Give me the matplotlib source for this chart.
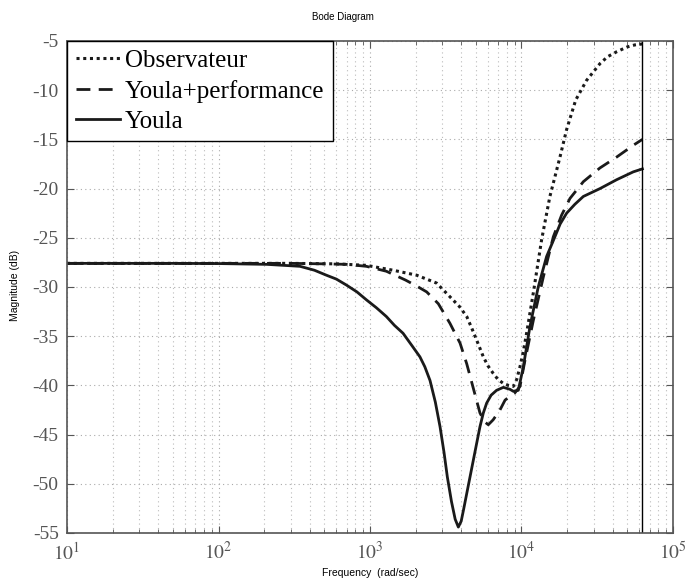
import matplotlib
matplotlib.use("Agg")
import matplotlib.pyplot as plt
import numpy as np
from matplotlib.ticker import FixedLocator, FixedFormatter, LogLocator, NullFormatter

# frequency (rad/s) and magnitude (dB)
w_obs = [10, 100, 300, 600, 946, 1422, 2030, 2750, 3373, 3900, 4350, 4700, 5060, 5600,
         6000, 6520, 7000, 7590, 8200, 8830, 9300, 9780, 10300, 10810, 11970, 13580,
         15400, 17950, 19860, 22800, 26900, 32980, 37000, 42460, 50000, 56000, 62832]
db_obs = [-27.6, -27.6, -27.6, -27.65, -27.8, -28.3, -28.8, -29.6, -31.0, -32.0, -33.0,
          -34.2, -35.4, -37.1, -38.0, -38.8, -39.4, -39.8, -40.0, -40.1, -39.4, -38.1,
          -36.5, -34.7, -30.6, -25.2, -20.8, -16.8, -14.0, -11.0, -9.0, -7.3, -6.6,
          -6.1, -5.6, -5.4, -5.3]

w_perf = [10, 100, 300, 500, 698, 946, 1282, 1717, 2030, 2367, 2825, 3373, 3930, 4350,
          4810, 5320, 5700, 6040, 6500, 7210, 7790, 8400, 9000, 9780, 10500, 11970,
          13930, 16220, 18400, 20900, 25600, 32980, 42460, 54700, 62832]
db_perf = [-27.6, -27.6, -27.6, -27.65, -27.7, -27.9, -28.4, -29.3, -29.9, -30.5, -31.7,
           -33.7, -35.7, -37.8, -40.3, -42.8, -43.7, -44.0, -43.5, -42.5, -41.5, -41.1,
           -40.8, -40.1, -37.6, -33.4, -29.0, -24.9, -22.7, -21.0, -19.3, -17.9, -16.8,
           -15.6, -15.0]

w_youla = [10, 50, 100, 208, 345, 430, 515, 600, 698, 820, 946, 1100, 1282, 1450, 1652,
           1900, 2136, 2300, 2490, 2700, 2900, 3080, 3240, 3450, 3650, 3830, 4000, 4150,
           4350, 4810, 5320, 5600, 5890, 6300, 6850, 7590, 8400, 8830, 9530, 10290,
           11380, 12900, 14650, 16620, 18000, 19860, 22500, 25600, 32980, 42460, 54700,
           62832]
db_youla = [-27.6, -27.6, -27.62, -27.7, -27.9, -28.3, -28.8, -29.2, -29.8, -30.5, -31.3,
            -32.1, -33.0, -33.9, -34.7, -36.0, -37.1, -38.1, -39.5, -41.7, -44.2, -46.8,
            -49.3, -51.8, -53.6, -54.4, -53.8, -52.6, -51.0, -47.6, -44.2, -42.8, -41.8,
            -41.0, -40.5, -40.2, -40.4, -40.6, -40.5, -38.1, -34.0, -30.0, -26.9, -24.9,
            -23.6, -22.5, -21.6, -20.8, -20.0, -19.1, -18.3, -18.0]

w_nyq = 62832
labels = ["Observateur", "Youla+performance", "Youla"]
yticks = [-5, -10, -15, -20, -25, -30, -35, -40, -45, -50, -55]
xticks = [1e1, 1e2, 1e3, 1e4, 1e5]

plt.rcParams['mathtext.fontset'] = 'stix'
serif = 'Liberation Serif'
gray = '#555555'

fig = plt.figure(figsize=(6.86, 5.83), dpi=100)
ax = fig.add_axes([0.0977, 0.0858, 0.8833, 0.8439])

ax.semilogx(w_obs, db_obs, color='#1a1a1a', lw=2.2, linestyle=(0, (1, 1.2)), label=labels[0])
ax.semilogx(w_perf, db_perf, color='#1a1a1a', lw=2.0, linestyle=(0, (5, 3)), label=labels[1])
ax.semilogx(w_youla, db_youla, color='#1a1a1a', lw=2.0, label=labels[2])
ax.axvline(w_nyq, color='black', lw=1.0)

ax.set_xlim(1e1, 1e5)
ax.set_ylim(-55, -5)

ax.xaxis.set_major_locator(FixedLocator(xticks))
ax.xaxis.set_major_formatter(FixedFormatter([r'$10^{%d}$' % int(np.log10(t)) for t in xticks]))
ax.xaxis.set_minor_locator(LogLocator(base=10, subs=np.arange(2, 10)))
ax.xaxis.set_minor_formatter(NullFormatter())
ax.yaxis.set_major_locator(FixedLocator(yticks))
ax.yaxis.set_major_formatter(FixedFormatter(['%d' % t for t in yticks]))

ax.tick_params(which='both', direction='in', top=True, right=True, color=gray)
ax.tick_params(which='major', length=5, labelsize=14, labelcolor=gray, pad=6)
ax.tick_params(which='minor', length=3)
for lab in ax.get_xticklabels() + ax.get_yticklabels():
    lab.set_family(serif)
for sp in ax.spines.values():
    sp.set_color(gray)
    sp.set_linewidth(1.2)

ax.grid(True, which='major', linestyle=(0, (1, 3)), color='#aaaaaa', lw=0.8)
ax.grid(True, which='minor', axis='x', linestyle=(0, (1, 3)), color='#bbbbbb', lw=0.8)

leg = ax.legend(loc='upper left', borderaxespad=0, fancybox=False, framealpha=1,
                edgecolor='black', prop={'family': serif, 'size': 18},
                handlelength=1.75, handletextpad=0.2, labelspacing=0.3, borderpad=0.35)
leg.get_frame().set_linewidth(1.0)

fig.text(0.5, 0.97, 'Bode Diagram', ha='center', va='center', fontsize=7, family='Liberation Sans')
fig.text(0.54, 0.017, 'Frequency  (rad/sec)', ha='center', va='center', fontsize=7.5, family='Liberation Sans')
fig.text(0.022, 0.51, 'Magnitude (dB)', ha='center', va='center', rotation=90, fontsize=7.5, family='Liberation Sans')

fig.savefig('out.png', dpi=100)
